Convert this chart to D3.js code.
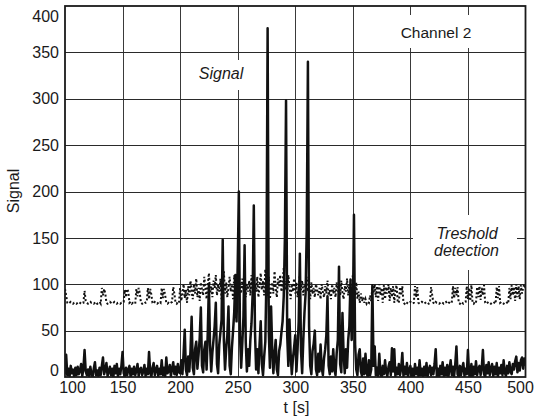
<!DOCTYPE html>
<html><head><meta charset="utf-8">
<script src="https://cdn.jsdelivr.net/npm/d3@7/dist/d3.min.js"></script>
<style>body{margin:0;background:#fff}svg{display:block}text{font-family:"Liberation Sans",Arial,sans-serif;fill:#1a1a1a}</style>
</head><body><svg id="c" width="534" height="418"></svg>
<script>
// time axis: one sample per second, t = 100 .. 500
const tStart = 100, tStep = 1;
const xTicks = [100,150,200,250,300,350,400,450,500];
const yTicks = [0,50,100,150,200,250,300,350,400];

// Signal (Channel 2)
const signal = [
 3,24,2,9,1,12,4,8,0,10,
 2,11,3,7,14,1,9,29,6,2,
 8,1,11,3,0,9,16,2,7,1,
 10,2,12,21,3,8,15,1,6,11,
 2,9,0,12,4,14,1,9,3,12,
 27,4,1,10,2,8,12,0,9,3,
 11,2,7,14,1,8,10,2,6,13,
 1,9,3,27,5,0,10,15,2,8,
 12,1,9,3,18,2,10,0,21,4,
 6,13,1,9,16,3,11,2,14,5,
 4,18,3,25,51,8,2,22,6,28,
 65,10,3,30,38,9,24,42,75,12,
 5,30,38,8,48,100,34,6,26,40,
 55,80,14,4,35,48,62,148,40,8,
 30,45,76,12,3,32,50,70,110,60,
 120,200,45,10,36,65,142,38,6,30,
 12,40,58,90,185,50,8,30,4,35,
 60,14,2,22,38,110,376,50,10,76,
 30,4,25,40,8,2,28,35,48,60,
 87,150,298,45,12,62,25,3,20,32,
 45,6,30,60,133,28,4,40,69,90,
 160,340,55,12,3,28,36,50,8,2,
 25,6,35,10,2,20,30,45,87,12,
 3,22,6,30,8,2,26,40,119,14,
 5,69,25,4,30,10,40,55,105,40,
 60,175,35,8,2,24,30,6,1,20,
 3,25,5,0,18,2,8,99,12,33,
 2,10,1,25,4,0,12,3,18,5,
 1,11,16,2,31,6,30,1,10,3,
 14,2,9,26,1,11,3,15,0,8,
 12,1,9,0,14,3,10,1,18,2,
 9,0,11,2,15,1,8,12,2,10,
 3,14,30,1,9,0,12,3,16,1,
 10,2,13,0,9,18,2,11,1,14,
 33,3,0,12,2,10,15,1,9,3,
 29,4,1,14,0,11,3,17,2,9,
 12,2,10,29,3,0,13,4,16,2,
 9,14,1,11,3,15,0,10,4,13,
 2,18,5,1,12,4,16,6,3,14,
 8,17,22,5,15,7,18,21,9,20,
 12
];

// Treshold detection
const threshold = [
 95,88,80,79,80,81,80,79,80,80,
 79,80,81,80,79,80,80,93,82,80,
 79,80,81,80,80,79,80,81,79,80,
 81,79,96,88,95,90,80,79,80,81,
 80,79,80,81,80,79,80,80,79,80,
 80,81,94,86,95,92,80,81,79,80,
 80,79,95,87,96,90,80,79,80,81,
 80,81,96,84,95,89,80,79,81,80,
 79,80,81,80,96,85,95,88,80,79,
 80,79,80,81,97,90,80,79,81,80,
 96,82,90,100,85,94,80,98,88,104,
 92,84,100,90,106,86,96,82,102,94,
 88,108,96,84,100,112,90,98,86,104,
 96,110,88,100,92,106,84,98,114,90,
 102,86,96,108,92,100,84,110,96,104,
 88,112,98,90,106,94,116,86,100,92,
 104,88,110,96,84,100,92,108,86,98,
 112,94,104,88,116,100,92,108,84,96,
 102,90,114,96,86,106,98,110,92,100,
 118,94,104,88,110,96,84,100,92,106,
 90,102,86,98,110,94,104,88,100,96,
 108,92,98,84,102,90,96,86,100,94,
 88,96,84,100,92,86,98,90,104,88,
 94,84,100,90,96,86,102,92,98,88,
 104,90,84,98,92,106,88,100,94,86,
 110,96,88,102,84,92,80,90,82,86,
 80,84,79,81,80,88,82,98,90,100,
 86,98,82,100,88,96,80,99,84,97,
 90,100,82,96,86,98,80,94,99,81,
 80,97,88,98,80,79,81,80,79,80,
 81,80,79,80,98,86,97,80,79,80,
 81,80,79,80,81,80,79,80,97,88,
 80,79,81,80,80,79,80,81,80,79,
 80,81,79,80,80,79,81,98,85,96,
 88,97,80,79,81,80,79,80,81,98,
 84,96,82,99,80,79,81,80,97,86,
 98,83,96,88,99,80,79,80,81,80,
 79,80,81,80,79,97,85,98,80,81,
 80,79,80,81,80,79,96,84,99,88,
 97,82,100,86,98,84,99,90,97,100,
 96
];

const svg = d3.select("#c");
const L = 65, R = 525.5, T = 6, B = 377;
const x = d3.scaleLinear().domain([100,500]).range([L,R]);
const y = d3.scaleLinear().domain([0,400]).range([B,T]);

// grid
const g = svg.append("g");
g.selectAll("line.vx").data(xTicks.slice(1,-1)).join("line")
  .attr("x1",d=>Math.round(x(d))+0.5).attr("x2",d=>Math.round(x(d))+0.5)
  .attr("y1",T).attr("y2",B).attr("stroke","#3a3a3a").attr("stroke-width",1);
g.selectAll("line.hy").data(yTicks.slice(1,-1)).join("line")
  .attr("y1",d=>Math.round(y(d))+0.5).attr("y2",d=>Math.round(y(d))+0.5)
  .attr("x1",L).attr("x2",R).attr("stroke","#2a2a2a").attr("stroke-width",1);

// label backgrounds
const boxes = [[395,15,82,33],[195,60,51,30],[413,215,104,55]];
svg.selectAll("rect.bg").data(boxes).join("rect")
  .attr("x",d=>d[0]).attr("y",d=>d[1]).attr("width",d=>d[2]).attr("height",d=>d[3]).attr("fill","#fff");

svg.append("clipPath").attr("id","pc").append("rect")
  .attr("x",L).attr("y",T).attr("width",R-L).attr("height",B-T);

const tOf = i => tStart + i*tStep;
const plot = svg.append("g").attr("clip-path","url(#pc)");

plot.append("path").datum(threshold)
  .attr("d", d3.line().x((d,i)=>x(tOf(i))).y(d=>y(d)))
  .attr("fill","none").attr("stroke","#111").attr("stroke-width",2)
  .attr("stroke-dasharray","2,2.2");

plot.append("path").datum(signal)
  .attr("d", d3.line().x((d,i)=>x(tOf(i))).y(d=>y(d)))
  .attr("fill","none").attr("stroke","#111").attr("stroke-width",2.5)
  .attr("stroke-linejoin","round");

// frame
svg.append("rect").attr("x",L).attr("y",T).attr("width",R-L).attr("height",B-T)
  .attr("fill","none").attr("stroke","#1a1a1a").attr("stroke-width",1.8);

// axes labels
const fs = 16;
const xa = svg.append("g").attr("transform",`translate(0,${B})`)
  .call(d3.axisBottom(x).tickValues(xTicks).tickSize(0).tickPadding(5).tickFormat(d3.format("d")));
xa.select(".domain").remove();
xa.selectAll("text").style("font-size",fs+"px").attr("fill","#1a1a1a")
  .attr("dx",d=>d===100?"7px":d===500?"-5.5px":"0px");

const ya = svg.append("g").attr("transform",`translate(${L},0)`)
  .call(d3.axisLeft(y).tickValues(yTicks).tickSize(0).tickPadding(6).tickFormat(d3.format("d")));
ya.select(".domain").remove();
ya.selectAll("text").style("font-size",fs+"px").attr("fill","#1a1a1a")
  .attr("dy",d=>d===400?"0.95em":d===0?"-0.1em":"0.32em");

svg.append("text").attr("x",296.5).attr("y",413).attr("text-anchor","middle")
  .style("font-size",fs+"px").text("t [s]");
svg.append("text").attr("transform","translate(19,191) rotate(-90)").attr("text-anchor","middle")
  .style("font-size",fs+"px").text("Signal");

svg.append("text").attr("x",436).attr("y",38).attr("text-anchor","middle")
  .style("font-size","15.5px").text("Channel 2");
svg.append("text").attr("x",221).attr("y",79).attr("text-anchor","middle")
  .style("font-size",fs+"px").style("font-style","italic").text("Signal");
svg.append("text").attr("x",467).attr("y",238.5).attr("text-anchor","middle")
  .style("font-size",fs+"px").style("font-style","italic").text("Treshold");
svg.append("text").attr("x",466.5).attr("y",255.5).attr("text-anchor","middle")
  .style("font-size",fs+"px").style("font-style","italic").text("detection");
</script></body></html>
